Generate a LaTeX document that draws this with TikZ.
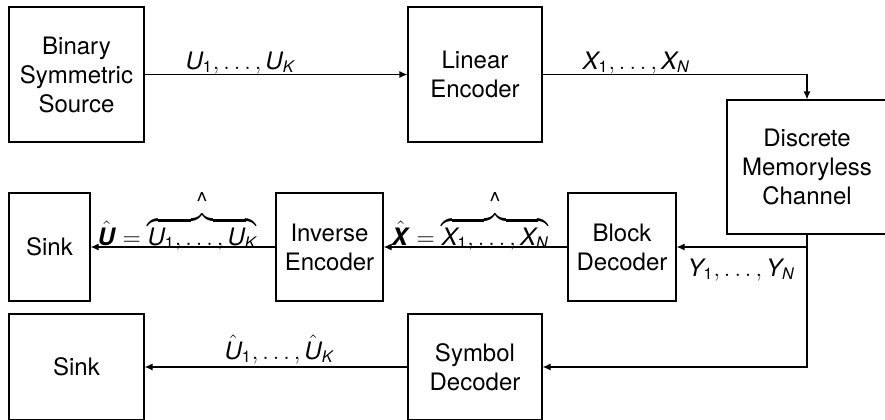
\documentclass[tikz,border=0pt]{standalone}
\usepackage{amsmath}
\usepackage{fontspec}
\setmainfont{TeX Gyre Heros}
\usetikzlibrary{arrows.meta}

\begin{document}
\begin{tikzpicture}[x=0.5pt, y=-0.5pt,
    every node/.style={font=\fontsize{12}{14.5}\selectfont},
    block/.style={draw, rectangle, align=center, inner sep=0pt},
    sig/.style={anchor=base west, inner sep=0pt},
    >={Latex[length=4pt,width=3.5pt]}, line width=0.6pt
    ]
    \clip (0,0) rectangle (885,419);

    % Define blocks
    \node[block, minimum width=67.5pt, minimum height=67.5pt] (src) at (76.5,74.5) {Binary\\Symmetric\\Source};
    \node[block, minimum width=67pt, minimum height=67.5pt] (lin) at (475,74.5) {Linear\\Encoder};
    \node[block, minimum width=80pt, minimum height=67pt] (dmc) at (807,167) {Discrete\\Memoryless\\Channel};
    \node[block, minimum width=40.5pt, minimum height=54pt] (sinkA) at (49.5,247) {Sink};
    \node[block, minimum width=53.5pt, minimum height=54pt] (inv) at (329.5,247) {Inverse\\Encoder};
    \node[block, minimum width=54pt, minimum height=54pt] (blk) at (622,247) {Block\\Decoder};
    \node[block, minimum width=67.5pt, minimum height=53pt] (sinkB) at (76.5,367) {Sink};
    \node[block, minimum width=67pt, minimum height=53pt] (sym) at (475,367) {Symbol\\Decoder};

    % Draw signal paths
    \draw[->] (src.east) -- (lin.west);
    \draw[->] (lin.east) -| (dmc.north);
    \draw[->] (dmc.south) |- (blk.east);
    \draw[->] (dmc.south) |- (sym.east);
    \draw[->] (blk.west) -- (inv.east);
    \draw[->] (inv.west) -- (sinkA.east);
    \draw[->] (sym.west) -- (sinkB.east);

    % Signal labels
    \node[sig] (u) at (185,69) {$\mathit{U}_{\mathrm{1}}, \ldots, \mathit{U}_{\mathit{K}}$};
    \node[sig] (x) at (582,69) {$\mathit{X}_{\mathrm{1}}, \ldots, \mathit{X}_{\mathit{N}}$};
    \node[sig] (y) at (687,276) {$\mathit{Y}_{\mathrm{1}}, \ldots, \mathit{Y}_{\mathit{N}}$};
    \node[sig] (xhat) at (391,245) {$\hat{\textbf{\textit{X}}} = \overbrace{\mathit{X}_{\mathrm{1}}, \ldots, \mathit{X}_{\mathit{N}}}^{\raisebox{-4pt}{\^{}}}$};
    \node[sig] (uhat) at (97,245) {$\hat{\textbf{\textit{U}}} = \overbrace{\mathit{U}_{\mathrm{1}}, \ldots, \mathit{U}_{\mathit{K}}}^{\raisebox{-4pt}{\^{}}}$};
    \node[sig] (uest) at (224,359) {$\hat{\mathit{U}}_{\mathrm{1}}, \ldots, \hat{\mathit{U}}_{\mathit{K}}$};

\end{tikzpicture}
\end{document}
